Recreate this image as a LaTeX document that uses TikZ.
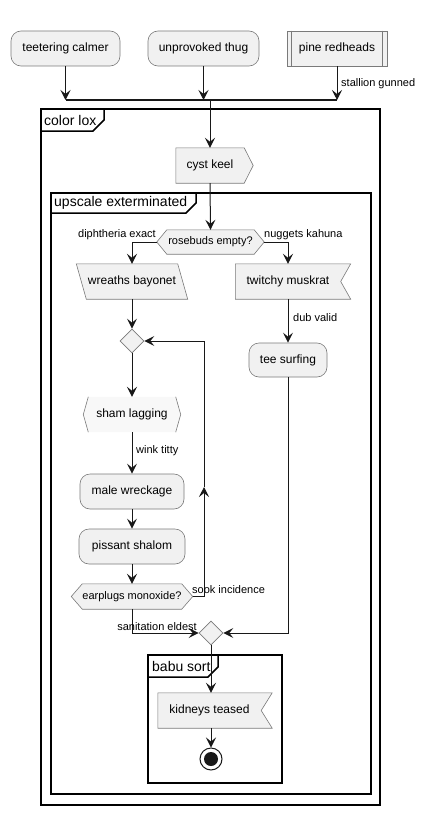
\documentclass[tikz,border=0pt]{standalone}
\usepackage{fontspec}
\setmainfont{Liberation Sans}
\usetikzlibrary{arrows.meta,shapes.geometric}
\definecolor{nodefill}{HTML}{F1F1F1}
\definecolor{nodeline}{HTML}{7A7A7A}
\definecolor{arrowc}{HTML}{181818}
\pgfdeclarelayer{bg}
\pgfsetlayers{bg,main}
\tikzset{
  body/.style={inner sep=0pt, font=\fontsize{12}{14}\selectfont, minimum height=35pt},
  rbox/.style={body, draw=nodeline, fill=nodefill, rounded corners=10pt, line width=0.6pt},
  shp/.style={draw=nodeline, fill=nodefill, line width=0.6pt},
  hexbody/.style={inner sep=0pt, font=\fontsize{11}{13}\selectfont, minimum height=25pt},
  dia/.style={diamond, draw=nodeline, fill=nodefill, line width=0.6pt, minimum width=24pt, minimum height=24pt, inner sep=0pt},
  arr/.style={draw=arrowc, line width=1pt, -{Stealth[length=10pt,width=10pt,inset=4pt]}},
  lbl/.style={font=\fontsize{11}{13}\selectfont, inner sep=0pt},
  frame/.style={draw=black, line width=1.5pt},
  ftitle/.style={font=\fontsize{14}{16}\selectfont, inner sep=0pt, anchor=west},
}
\begin{document}
\begin{tikzpicture}[x=1pt,y=-1pt]
\useasboundingbox (0,0) rectangle (424,816);
\begin{pgfonlayer}{bg}
  \fill[white] (0,0) rectangle (424,816);
\end{pgfonlayer}

% nodes
\node[rbox, minimum width=109pt] (tc) at (65.5,48.5) {teetering calmer};
\node[rbox, minimum width=111pt] (ut) at (203.5,48.5) {unprovoked thug};
\node[body, shp, minimum width=100pt] (pr) at (337,48.5) {pine redheads};
\draw[nodeline, line width=0.6pt] ([xshift=5pt]pr.north west) -- ([xshift=5pt]pr.south west);
\draw[nodeline, line width=0.6pt] ([xshift=-5pt]pr.north east) -- ([xshift=-5pt]pr.south east);

\coordinate (barL) at (65.5,100);
\coordinate (barM) at (210,100);
\coordinate (barR) at (337,100);

\node[body, minimum width=68pt] (ck) at (210,165.5) {cyst keel};
\node[hexbody, minimum width=87pt, minimum height=24pt] (rb) at (210.5,242) {rosebuds empty?};
\coordinate (rbL) at ([xshift=-10pt]rb.west);
\coordinate (rbR) at ([xshift=10pt]rb.east);
\node[body, minimum width=111pt] (wb) at (132,281.5) {wreaths bayonet};
\node[body, minimum width=105pt] (tm) at (288,281.5) {twitchy muskrat};
\node[rbox, minimum width=78pt, minimum height=34pt] (ts) at (288,360) {tee surfing};
\node[dia] (d1) at (132,341) {};
\node[body, minimum width=97pt] (sl) at (132,414.5) {sham lagging};
\node[rbox, minimum width=104pt] (mw) at (132,491.5) {male wreckage};
\node[rbox, minimum width=106pt] (ps) at (132,546.5) {pissant shalom};
\node[hexbody, minimum width=99pt] (em) at (132,596.5) {earplugs monoxide?};
\coordinate (emL) at ([xshift=-11pt]em.west);
\coordinate (emR) at ([xshift=11pt]em.east);
\node[dia] (md) at (211,633) {};
\node[body, minimum width=103pt] (kt) at (209.5,710.5) {kidneys teased};
\node[circle, draw=arrowc, line width=1pt, fill=white, minimum size=22pt, inner sep=0pt] (end) at (211,759) {};
\fill[arrowc] (end.center) circle (7pt);

% shapes and frames on background
\begin{pgfonlayer}{bg}
  \draw[frame] (41,109) rectangle (380,805);
  \draw[frame] (41,131) -- (93,131) -- (104,120) -- (104,109);
  \draw[frame] (51,193) rectangle (371,794);
  \draw[frame] (51,213) -- (186,213) -- (196,203) -- (196,193);
  \draw[frame] (148,655) rectangle (282,783);
  \draw[frame] (148,677) -- (208,677) -- (218,667) -- (218,655);
  \draw[shp] (ck.north west) -- (ck.north east) -- ([xshift=9pt]ck.east) -- (ck.south east) -- (ck.south west) -- cycle;
  \draw[shp] (rbL) -- (rb.north west) -- (rb.north east) -- (rbR) -- (rb.south east) -- (rb.south west) -- cycle;
  \draw[shp] (wb.north west) -- ([xshift=-10pt]wb.north east) -- (wb.south east) -- ([xshift=10pt]wb.south west) -- cycle;
  \draw[shp] (tm.north west) -- ([xshift=10pt]tm.north east) -- (tm.east) -- ([xshift=10pt]tm.south east) -- (tm.south west) -- cycle;
  \fill[white!50!nodefill] ([xshift=5pt]sl.north west) -- (sl.west) -- ([xshift=5pt]sl.south west) -- ([xshift=-5pt]sl.south east) -- (sl.east) -- ([xshift=-5pt]sl.north east) -- cycle;
  \draw[nodeline, line width=0.6pt] ([xshift=5pt]sl.north west) -- (sl.west) -- ([xshift=5pt]sl.south west);
  \draw[nodeline, line width=0.6pt] ([xshift=-5pt]sl.north east) -- (sl.east) -- ([xshift=-5pt]sl.south east);
  \draw[shp] (emL) -- (em.north west) -- (em.north east) -- (emR) -- (em.south east) -- (em.south west) -- cycle;
  \draw[shp] (kt.north west) -- ([xshift=11pt]kt.north east) -- (kt.east) -- ([xshift=11pt]kt.south east) -- (kt.south west) -- cycle;
\end{pgfonlayer}

% frame titles
\node[ftitle] (tlox) at (44,120) {color lox};
\node[ftitle] (tups) at (54,203) {upscale exterminated};
\node[ftitle] (tbabu) at (152,666) {babu sort};

% connectors
\draw[arr] (tc.south) -- (tc.south |- barL);
\draw[arr] (ut.south) -- (ut.south |- barL);
\draw[arr] (pr.south) -- (pr.south |- barR);
\draw[draw=arrowc, line width=1.5pt] (barL) -- (barR);
\node[lbl, anchor=west] (lsg) at (341,84) {stallion gunned};
\draw[arr] (barM) -- (ck.north);
\draw[arr] (ck.south) -- (rb.north);
\draw[arr] (rbL) -| (wb.north);
\draw[arr] (rbR) -| (tm.north);
\node[lbl, anchor=east] (lde) at (156,235) {diphtheria exact};
\node[lbl, anchor=west] (lnk) at (264,235) {nuggets kahuna};
\draw[arr] (wb.south) -- (d1.north);
\draw[arr] (d1.south) -- (sl.north);
\draw[arr] (sl.south) -- (mw.north);
\node[lbl, anchor=west] (lwt) at (136,451) {wink titty};
\draw[arr] (mw.south) -- (ps.north);
\draw[arr] (ps.south) -- (em.north);
\coordinate (lp1) at (204,596.5);
\coordinate (lp2) at (204,487);
\draw[arr] (emR) -- (lp1) -- (lp2);
\draw[arr] (lp2) |- (d1.east);
\node[lbl, anchor=west] (lsi) at (192,590) {sook incidence};
\draw[arr] (em.south) |- (md.west);
\node[lbl, anchor=east] (lse) at (197,627) {sanitation eldest};
\draw[arr] (tm.south) -- (ts.north);
\node[lbl, anchor=west] (ldv) at (293,318) {dub valid};
\draw[arr] (ts.south) |- (md.east);
\draw[arr] (md.south) -- (md.south |- kt.north);
\draw[arr] (kt.south -| end.north) -- (end.north);
\end{tikzpicture}
\end{document}
